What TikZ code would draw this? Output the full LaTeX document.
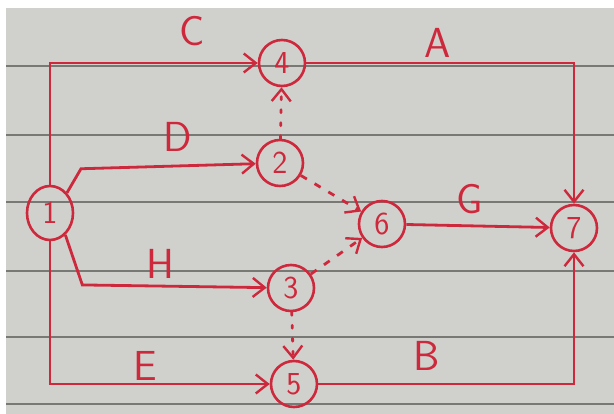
\documentclass[tikz,border=0pt]{standalone}
\usepackage{amsmath}
\usepackage{pgf,tikz}
\usetikzlibrary{arrows.meta,shapes.geometric}
\definecolor{pen}{RGB}{206,40,60}
\definecolor{paper}{RGB}{208,209,204}
\definecolor{rule}{RGB}{120,120,117}
\begin{document}
\begin{tikzpicture}[x=1pt,y=-1pt,
  event/.style={circle,draw=pen,line width=2.6pt,minimum size=46pt,inner sep=0pt,
    text=pen,font=\sffamily\fontsize{32}{32}\selectfont},
  act/.style={draw=pen,line width=2.8pt,-{Straight Barb[length=12pt,width=19pt,line width=2.4pt]}},
  dummy/.style={act,dash pattern=on 3pt off 10pt,line cap=round},
  dash2/.style={act,dash pattern=on 7pt off 9pt},
  lab/.style={text=pen,font=\sffamily\fontsize{42}{42}\selectfont}]
\useasboundingbox (0,0) rectangle (614,414);
\fill[white] (0,0) rectangle (614,414);
\fill[paper] (6,8) rectangle (614,414);
\foreach \y in {66,135,202,271,337,404}
  \draw[rule,line width=1.1pt] (6,\y) -- (614,\y);
\node[event,ellipse,minimum width=46pt,minimum height=54pt] (n1) at (50,213) {1};
\node[event] (n4) at (282,63) {4};
\node[event] (n2) at (280,163) {2};
\node[event] (n6) at (382,224) {6};
\node[event] (n3) at (291,288) {3};
\node[event] (n5) at (294,384) {5};
\node[event] (n7) at (574,228) {7};
\draw[act] (n1.north) |- (n4);
\draw[act] (n4) -| (n7);
\draw[act] (n1.50) -- ++(14,-24) -- (n2);
\draw[act] (n1.-55) -- ++(17,50) -- (n3);
\draw[act] (n1.south) |- (n5);
\draw[act] (n5) -| (n7);
\draw[act] (n6) -- (n7);
\draw[dummy] (n2) -- (n4);
\draw[dummy] (n3) -- (n5);
\draw[dash2] (n2) -- (n6);
\draw[dash2] (n3) -- (n6);
\node[lab] (lC) at (192,31) {C};
\node[lab] (lA) at (438,43) {A};
\node[lab] (lD) at (178,137) {D};
\node[lab] (lH) at (160,264) {H};
\node[lab] (lE) at (145,366) {E};
\node[lab] (lB) at (427,356) {B};
\node[lab] (lG) at (470,199) {G};
\end{tikzpicture}
\end{document}
